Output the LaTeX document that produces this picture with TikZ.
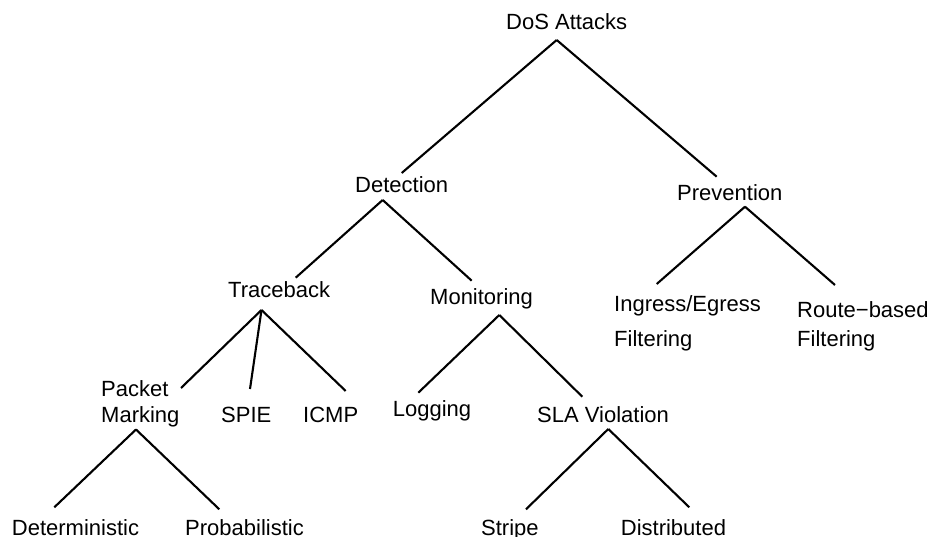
\documentclass[tikz,border=0pt]{standalone}
\usepackage{fontspec}
\setmainfont{Liberation Sans}
\begin{document}
\begin{tikzpicture}[x=1pt,y=-1pt,
  lbl/.style={anchor=base west,inner sep=0pt,font=\fontsize{22}{26}\selectfont,align=left},
  edge/.style={line width=2.1pt}]
\useasboundingbox[fill=white] (0,0) rectangle (935,537);
\node[lbl] (dos) at (506,30) {DoS Attacks};
\node[lbl] (det) at (355,193) {Detection};
\node[lbl] (prev) at (677,200.7) {Prevention};
\node[lbl] (trace) at (228,298) {Traceback};
\node[lbl] (mon) at (430,305) {Monitoring};
\node[lbl] (ing) at (614,346.5) {Ingress/Egress\\[9pt]Filtering};
\node[lbl] (route) at (797,346.7) {Route\char"2212 based\\[3pt]Filtering};
\node[lbl] (pm) at (101,422.7) {Packet\\Marking};
\node[lbl] (spie) at (221,422.7) {SPIE};
\node[lbl] (icmp) at (303,422.7) {ICMP};
\node[lbl] (log) at (392.7,416.7) {Logging};
\node[lbl] (sla) at (537,422.7) {SLA Violation};
\node[lbl] (detm) at (11.7,535) {Deterministic};
\node[lbl] (prob) at (185,535) {Probabilistic};
\node[lbl] (stripe) at (481,535) {Stripe};
\node[lbl] (dist) at (620.7,535) {Distributed};

\draw[edge] ([shift={(50.7,10)}]dos.base west) -- ([shift={(46.7,-20)}]det.base west);
\draw[edge] ([shift={(50.7,10)}]dos.base west) -- ([shift={(39.7,-24)}]prev.base west);
\draw[edge] ([shift={(27.7,7)}]det.base west) -- ([shift={(67.7,-20.3)}]trace.base west);
\draw[edge] ([shift={(27.7,7)}]det.base west) -- ([shift={(41.7,-24.3)}]mon.base west);
\draw[edge] ([shift={(68,6)}]prev.base west) -- ([shift={(42.7,-62.5)}]ing.base west);
\draw[edge] ([shift={(68,6)}]prev.base west) -- ([shift={(38,-61.7)}]route.base west);
\draw[edge] ([shift={(33.5,12)}]trace.base west) -- ([shift={(80,-34.7)}]pm.base west);
\draw[edge] ([shift={(33.5,12)}]trace.base west) -- ([shift={(29,-33.7)}]spie.base west);
\draw[edge] ([shift={(33.5,12)}]trace.base west) -- ([shift={(42.7,-31.7)}]icmp.base west);
\draw[edge] ([shift={(69.3,10)}]mon.base west) -- ([shift={(25.6,-24)}]log.base west);
\draw[edge] ([shift={(69.3,10)}]mon.base west) -- ([shift={(45.3,-26)}]sla.base west);
\draw[edge] ([shift={(35,6.8)}]pm.base west) -- ([shift={(42.6,-27.7)}]detm.base west);
\draw[edge] ([shift={(35,6.8)}]pm.base west) -- ([shift={(34.3,-25.7)}]prob.base west);
\draw[edge] ([shift={(71.3,6.3)}]sla.base west) -- ([shift={(45,-25.7)}]stripe.base west);
\draw[edge] ([shift={(71.3,6.3)}]sla.base west) -- ([shift={(68.6,-27.7)}]dist.base west);
\end{tikzpicture}
\end{document}
